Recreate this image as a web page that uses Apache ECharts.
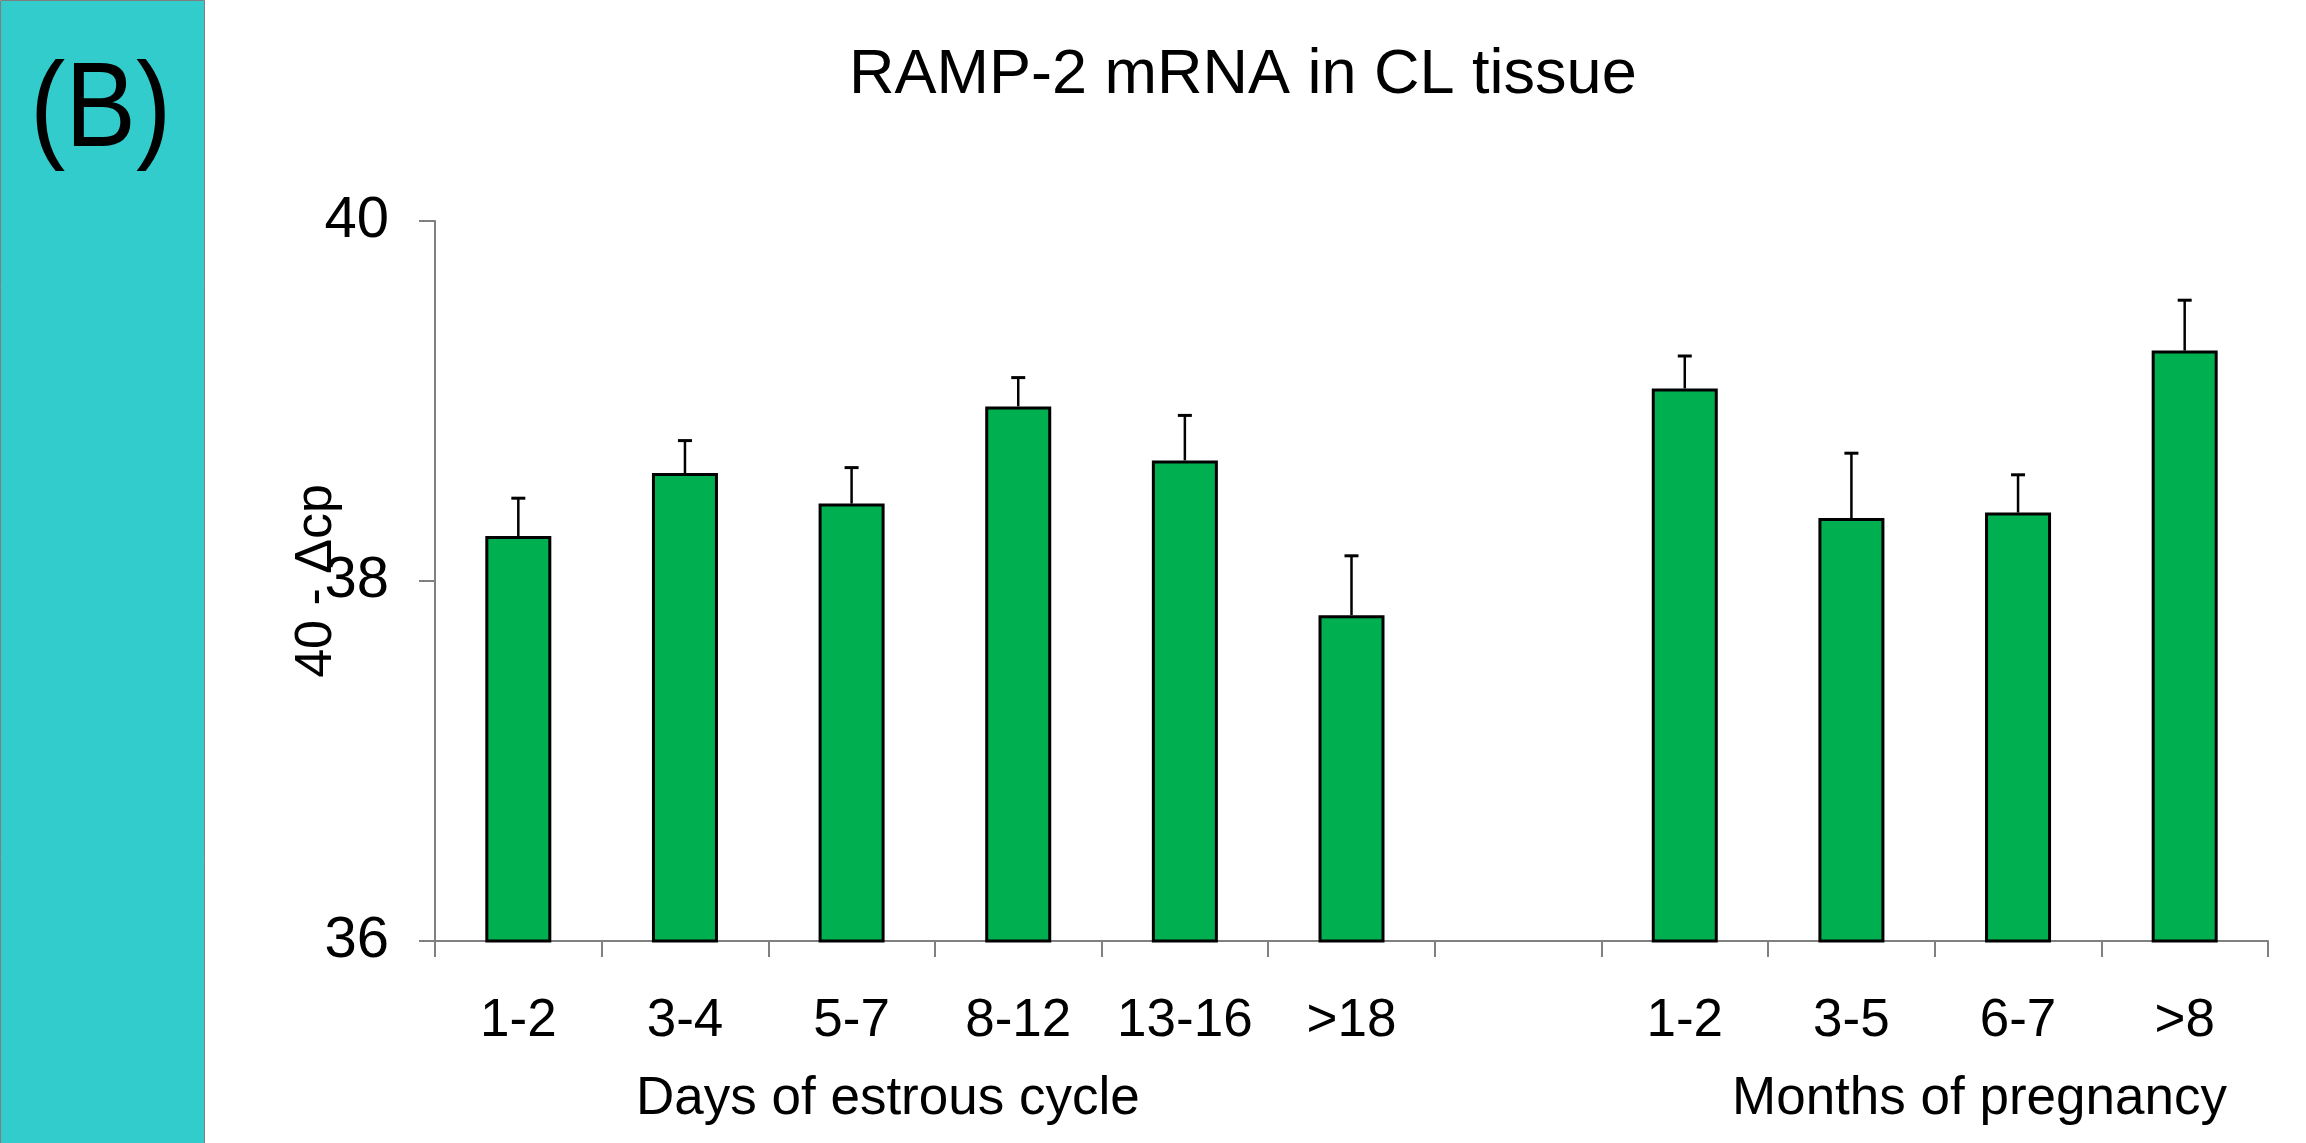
<!DOCTYPE html>
<html>
<head>
<meta charset="utf-8">
<script src="https://cdn.jsdelivr.net/npm/echarts@6/dist/echarts.min.js"></script>
<style>
  html, body { margin: 0; padding: 0; background: #fff; }
  #chart { width: 2306px; height: 1143px; }
</style>
</head>
<body>
<div id="chart"></div>
<script>
// 类别（中间空一格分隔两组）
const categories = ['1-2', '3-4', '5-7', '8-12', '13-16', '>18', '', '1-2', '3-5', '6-7', '>8']
// 柱高 (40 - Δcp)
const meanValues = [38.25, 38.60, 38.43, 38.97, 38.67, 37.81, null, 39.07, 38.35, 38.38, 39.28]
// 误差线顶端
const errorTops = [38.46, 38.78, 38.63, 39.13, 38.92, 38.14, null, 39.25, 38.71, 38.59, 39.56]
const yTicks = [36, 38, 40]

const font = '"Liberation Sans", Arial, sans-serif'

const chart = echarts.init(document.getElementById('chart'))

const errorData = meanValues
  .map((v, i) => (v == null ? null : [i, v, errorTops[i]]))
  .filter(d => d)

const option = {
  animation: false,
  backgroundColor: '#ffffff',
  graphic: [
    {
      type: 'rect',
      left: 0,
      top: 0,
      shape: { width: 204, height: 1143 },
      style: { fill: '#33CCCC', stroke: '#7f7f7f', lineWidth: 1 }
    },
    {
      type: 'text',
      x: 30,
      y: 52,
      scaleY: 1.14,
      style: { text: '(B)', fontSize: 106, fontFamily: font, fill: '#000' }
    },
    {
      type: 'text',
      left: 1243 - 394,
      top: 44,
      style: { text: 'RAMP-2 mRNA in CL tissue', fontSize: 63, fontFamily: font, fill: '#000' }
    },
    {
      type: 'text',
      left: 887 - 251,
      top: 1073,
      style: { text: 'Days of estrous cycle', fontSize: 53, fontFamily: font, fill: '#000' }
    },
    {
      type: 'text',
      left: 1980 - 248,
      top: 1073,
      style: { text: 'Months of pregnancy', fontSize: 53, fontFamily: font, fill: '#000' }
    }
  ],
  grid: {
    left: 435,
    right: 38,
    top: 221,
    bottom: 202
  },
  xAxis: {
    type: 'category',
    data: categories,
    boundaryGap: true,
    axisLine: { lineStyle: { color: '#808080', width: 2 } },
    axisTick: { show: true, interval: 0, length: 16, lineStyle: { color: '#808080', width: 2 } },
    axisLabel: {
      interval: 0,
      margin: 54,
      color: '#000',
      fontSize: 53,
      fontFamily: font
    }
  },
  yAxis: {
    type: 'value',
    min: yTicks[0],
    max: yTicks[yTicks.length - 1],
    interval: 2,
    name: '40 - Δcp',
    nameLocation: 'middle',
    nameGap: 92,
    nameMoveOverlap: false,
    nameTextStyle: { color: '#000', fontSize: 52, fontFamily: font },
    axisLine: { show: true, lineStyle: { color: '#808080', width: 2 } },
    axisTick: { show: true, length: 16, lineStyle: { color: '#808080', width: 2 } },
    axisLabel: { color: '#000', fontSize: 58, fontFamily: font, margin: 46 },
    splitLine: { show: false }
  },
  series: [
    {
      type: 'bar',
      data: meanValues,
      barWidth: 66,
      itemStyle: { color: '#00B050', borderColor: '#000', borderWidth: 3 },
      z: 2
    },
    {
      // 误差线（仅上方）
      type: 'custom',
      data: errorData,
      z: 3,
      renderItem: function (params, api) {
        const x = api.value(0)
        const base = api.coord([x, api.value(1)])
        const top = api.coord([x, api.value(2)])
        const half = 7
        return {
          type: 'group',
          children: [
            {
              type: 'line',
              shape: { x1: base[0], y1: base[1], x2: top[0], y2: top[1] },
              style: { stroke: '#000', lineWidth: 2.5 }
            },
            {
              type: 'line',
              shape: { x1: top[0] - half, y1: top[1], x2: top[0] + half, y2: top[1] },
              style: { stroke: '#000', lineWidth: 3 }
            }
          ]
        }
      }
    }
  ]
}

chart.setOption(option)
</script>
</body>
</html>
